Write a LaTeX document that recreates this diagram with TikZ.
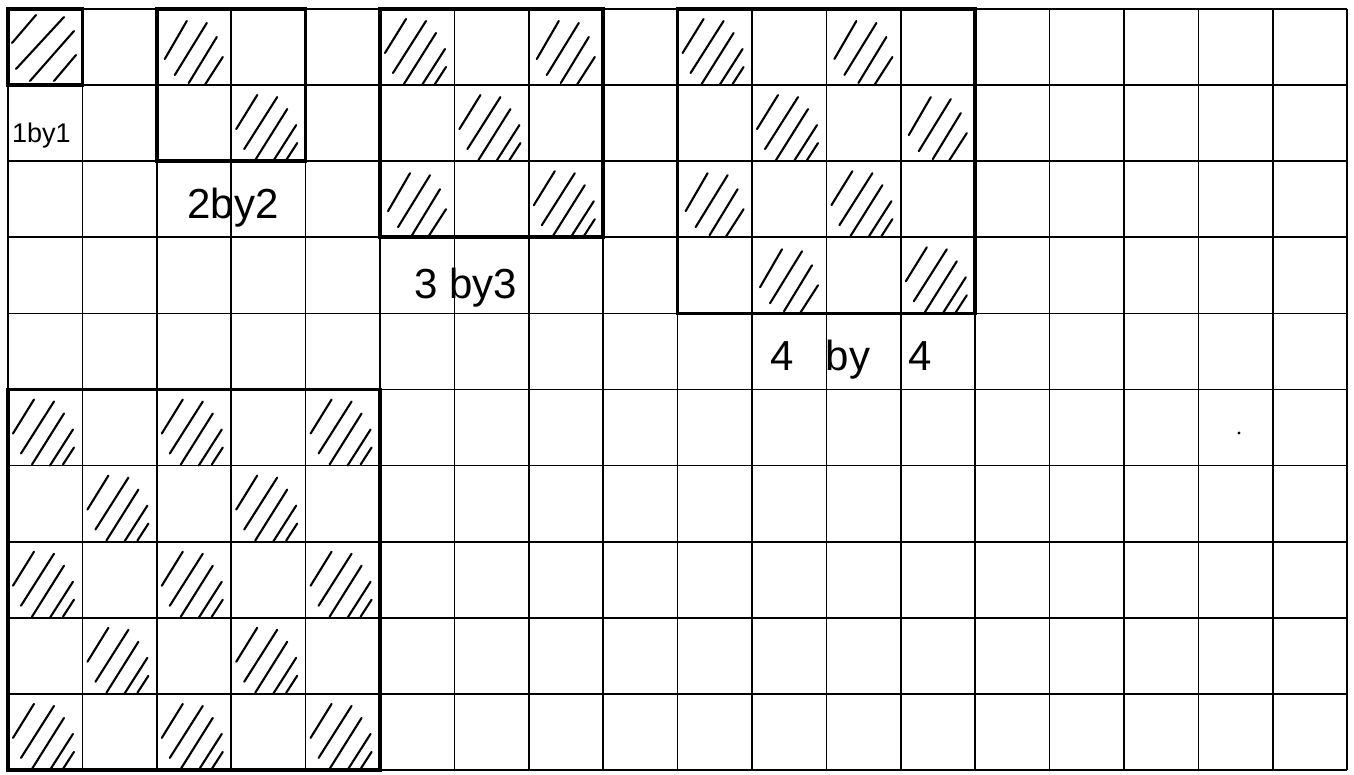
\documentclass[tikz,border=0pt]{standalone}
\usepackage{fontspec}
\setmainfont{Liberation Sans}
\begin{document}
\begin{tikzpicture}[x=1pt,y=-1pt,
  gridline/.style={line width=1.6pt,black},
  boxline/.style={line width=3.6pt,black,line join=miter},
  hatchline/.style={line width=2.1pt,line cap=round,black},
  lbl/.style={font=\fontsize{42}{42}\selectfont,inner sep=0pt},
  hatchA/.pic={
    \draw[hatchline] (5,44) -- (26,10);
    \draw[hatchline] (13,64) -- (46,12);
    \draw[hatchline] (24,75) -- (56,24);
    \draw[hatchline] (42,76) -- (65,40);
    \draw[hatchline] (55,75) -- (66,58);
  },
  hatchB/.pic={
    \draw[hatchline] (8,50) -- (30,12);
    \draw[hatchline] (18,66) -- (50,14);
    \draw[hatchline] (32,74) -- (60,28);
    \draw[hatchline] (48,76) -- (66,48);
  },
  hatchC/.pic={
    \draw[hatchline] (4,34) -- (28,6);
    \draw[hatchline] (8,60) -- (56,8);
    \draw[hatchline] (22,72) -- (66,22);
    \draw[hatchline] (46,72) -- (68,46);
  }]
\useasboundingbox (0,0) rectangle (1354,775);
\fill[white] (0,0) rectangle (1354,775);
% grid
\foreach \k in {0,...,18} \draw[gridline] ({8+\k*74.4},9) -- ({8+\k*74.4},770);
\foreach \j in {0,...,10} \draw[gridline] (8,{9+\j*76.1}) -- (1347,{9+\j*76.1});
% hatched cells
\pic at (8,9) {hatchC};
\foreach \c/\r in {3/1,5/0,6/1,7/2,9/0,10/1,11/2,12/3,0/5,2/5,4/5,1/6,3/6,0/7,2/7,4/7,1/8,3/8,0/9,2/9,4/9}
  \pic at ({8+\c*74.4},{9+\r*76.1}) {hatchA};
\foreach \c/\r in {2/0,7/0,5/2,11/0,12/1,9/2,10/3}
  \pic at ({8+\c*74.4},{9+\r*76.1}) {hatchB};
% thick boxes
\draw[boxline] (8,9) rectangle (82.4,85.1);
\draw[boxline] (156.8,9) rectangle (305.6,161.2);
\draw[boxline] (380,9) rectangle (603.2,237.3);
\draw[boxline] (677.6,9) rectangle (975.2,313.4);
\draw[boxline] (8,389.5) rectangle (380,770);
% labels
\node[lbl,anchor=west,font=\fontsize{27}{27}\selectfont] (l1) at (12,136) {1by1};
\node[lbl] (l2) at (233,208) {2by2};
\node[lbl] (l3) at (466,288) {3 by3};
\node[lbl] (l4) at (851,360) {4\hspace{32pt}by\hspace{38pt}4};
% speck
\fill (1239,433) circle (1.6);
\end{tikzpicture}
\end{document}
